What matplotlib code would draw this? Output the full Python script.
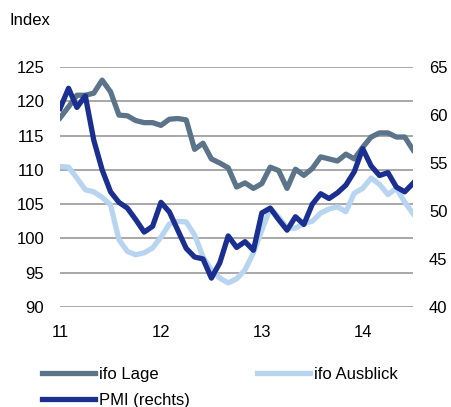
import numpy as np
import matplotlib.pyplot as plt

plt.rcParams['font.family'] = ['Liberation Sans', 'DejaVu Sans']

# monthly data, Jan 2011 .. Jul 2014
years = np.arange(2011, 2015)
ifo_lage = [117.6, 119.2, 120.9, 120.9, 121.2, 123.1, 121.4, 118.0, 117.9, 117.2,
            116.9, 116.9, 116.5, 117.4, 117.5, 117.3, 113.0, 113.9, 111.6, 111.0,
            110.3, 107.5, 108.1, 107.3, 108.0, 110.4, 109.9, 107.3, 110.1, 109.2,
            110.2, 111.9, 111.6, 111.3, 112.3, 111.6, 113.3, 114.8, 115.4, 115.4,
            114.8, 114.8, 112.9]
ifo_ausblick = [110.5, 110.4, 108.8, 107.1, 106.8, 106.0, 104.9, 99.8, 98.1, 97.6,
                97.9, 98.6, 100.2, 102.1, 102.5, 102.4, 100.5, 97.3, 95.4, 94.2,
                93.5, 94.1, 95.4, 97.9, 101.2, 104.4, 103.1, 101.5, 101.5, 102.2,
                102.5, 103.7, 104.3, 104.6, 103.9, 106.6, 107.3, 108.8, 107.9, 106.4,
                107.3, 105.3, 103.6]
pmi = [60.7, 62.8, 60.8, 62.0, 57.4, 54.3, 52.0, 50.9, 50.3, 49.1,
       47.8, 48.4, 50.9, 49.9, 48.0, 46.1, 45.2, 45.0, 43.0, 44.6,
       47.4, 46.2, 46.8, 45.9, 49.8, 50.3, 49.1, 48.0, 49.4, 48.6,
       50.7, 51.8, 51.3, 51.9, 52.7, 54.1, 56.5, 54.7, 53.7, 54.0,
       52.5, 52.0, 52.9]
year_labels = ['11', '12', '13', '14']

c_lage = '#5b7489'
c_ausblick = '#b7d4f0'
c_pmi = '#1b2f91'
c_grid = '#9a9a9a'

x = 11 + np.arange(len(ifo_lage)) / 12

fig = plt.figure(figsize=(4.52, 4.07), dpi=100)
ax = fig.add_axes([0.133, 0.246, 0.781, 0.589])
ax2 = ax.twinx()

l1, = ax.plot(x, ifo_lage, color=c_lage, lw=3.8, label='ifo Lage')
l2, = ax.plot(x, ifo_ausblick, color=c_ausblick, lw=3.8, label='ifo Ausblick')
l3, = ax2.plot(x, pmi, color=c_pmi, lw=3.8, label='PMI (rechts)')

ax.set_xlim(11, 14.5)
ax.set_ylim(90, 125)
ax2.set_ylim(40, 65)
ax.set_yticks(np.arange(90, 126, 5))
ax2.set_yticks(np.arange(40, 66, 5))
ax.set_xticks(years - 2000)
ax.set_xticklabels(year_labels)

ax.yaxis.grid(True, color=c_grid, lw=1.2)
ax.set_axisbelow(True)
for a in (ax, ax2):
    for s in a.spines.values():
        s.set_visible(False)
    a.tick_params(length=0, labelsize=12)
ax.tick_params(axis='y', pad=11.5)
ax2.tick_params(axis='y', pad=11.5)
ax.tick_params(axis='x', pad=13)

fig.text(0.02, 0.95, 'Index', fontsize=12, va='center', ha='left')

fig.legend(handles=[l1, l3, l2], loc='lower left', bbox_to_anchor=(0.078, -0.018),
           ncol=2, frameon=False, fontsize=12, handlelength=3.2,
           handletextpad=0.25, columnspacing=4.0, labelspacing=0.62,
           borderaxespad=0)

fig.savefig('out.png', dpi=100)
